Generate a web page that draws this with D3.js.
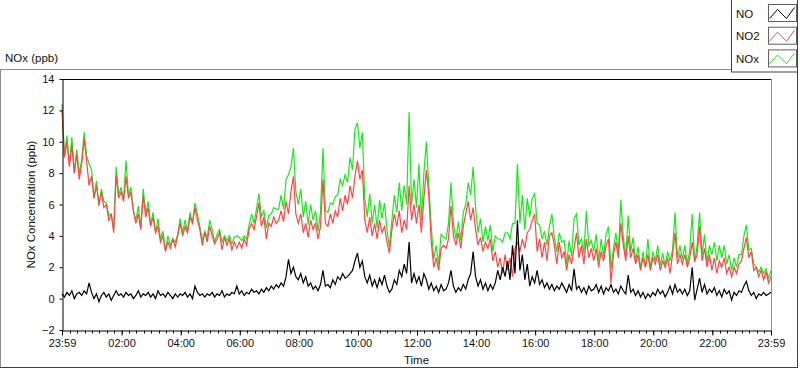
<!DOCTYPE html>
<meta charset="utf-8">
<title>NOx (ppb)</title>
<script src="https://d3js.org/d3.v7.min.js"></script>
<style>
  body { margin: 0; background: #fff; overflow: hidden; }
  text { font-family: "Liberation Sans", Arial, sans-serif; fill: #111; }
</style>
<div id="chart"></div>
<script>

// one reading every 5 minutes, 23:59 -> 23:59 next day (one row per hour)
var no2 = [
  12.0, 9.0, 10.0, 8.4, 9.8, 8.0, 9.2, 7.6, 8.6, 10.2, 8.8, 7.2,
  7.8, 6.4, 7.2, 6.0, 6.8, 5.8, 6.0, 5.0, 5.4, 4.2, 7.9, 6.4,
  6.8, 6.2, 7.8, 6.4, 6.8, 5.6, 4.8, 5.4, 4.4, 6.6, 5.2, 5.8,
  4.6, 5.2, 4.2, 4.6, 3.6, 4.0, 3.0, 3.6, 3.2, 3.8, 3.3, 4.0,
  4.8, 4.0, 4.6, 4.2, 5.2, 4.8, 5.8, 5.0, 4.4, 3.4, 4.2, 3.6,
  4.6, 4.0, 3.5, 3.8, 4.2, 3.1, 3.9, 3.4, 3.8, 3.1, 3.6, 3.2,
  3.6, 3.2, 3.8, 3.4, 4.4, 4.8, 4.4, 5.2, 6.1, 4.6, 5.2, 3.8,
  4.8, 4.6, 5.2, 4.8, 5.0, 5.6, 4.9, 6.2, 5.4, 6.8, 7.8, 5.4,
  4.8, 5.4, 4.2, 4.8, 3.9, 5.0, 4.4, 4.8, 3.8, 4.6, 7.6, 4.8,
  4.6, 5.4, 4.8, 5.6, 5.2, 6.4, 5.6, 6.6, 6.0, 7.2, 6.4, 7.8,
  8.8, 7.6, 8.2, 5.0, 4.2, 5.2, 4.0, 4.8, 3.8, 5.0, 4.2, 4.6,
  3.6, 2.9, 4.4, 5.4, 4.6, 5.6, 4.2, 5.0, 4.4, 7.2, 5.0, 6.0,
  4.8, 6.0, 4.2, 6.4, 8.2, 6.6, 3.6, 2.0, 2.6, 1.8, 3.2, 3.4,
  3.2, 3.8, 5.9, 4.0, 3.4, 4.2, 3.2, 4.6, 5.4, 6.2, 5.0, 5.8,
  4.4, 3.4, 3.9, 3.0, 3.6, 3.2, 3.8, 2.4, 3.0, 2.0, 2.6, 1.6,
  2.8, 1.8, 2.6, 1.4, 3.2, 3.6, 3.0, 3.8, 3.2, 4.2, 4.4, 5.0,
  5.4, 3.0, 3.8, 2.6, 3.6, 2.4, 4.0, 4.2, 3.4, 2.2, 3.6, 2.6,
  3.0, 1.8, 2.8, 2.2, 3.2, 4.2, 2.6, 3.4, 2.2, 3.8, 2.6, 3.2,
  2.4, 3.2, 2.0, 3.0, 2.4, 3.4, 3.8, 1.0, 2.8, 3.6, 2.6, 4.8,
  3.4, 2.4, 4.0, 2.6, 3.2, 2.2, 2.8, 1.8, 2.6, 2.0, 2.8, 1.8,
  2.6, 2.2, 2.8, 1.8, 2.4, 2.0, 2.6, 1.6, 2.8, 4.2, 2.2, 2.8,
  2.2, 2.8, 2.0, 2.6, 3.6, 2.4, 2.8, 4.6, 2.4, 3.2, 2.0, 2.8,
  1.8, 2.6, 1.6, 2.4, 2.0, 2.6, 1.6, 2.0, 1.4, 2.0, 1.6, 2.2,
  2.4, 3.2, 3.9, 2.6, 3.0, 1.8, 2.0, 1.4, 1.8, 1.2, 1.7, 1.0, 1.4
];

var no = [
  0.3, 0.1, 0.4, 0.2, 0.5, 0.0, 0.3, 0.4, 0.2, 0.5, 0.3, 1.0,
  0.4, 0.0, 0.3, -0.2, 0.2, 0.4, 0.1, 0.3, -0.1, 0.2, 0.5, 0.2,
  0.3, 0.1, 0.4, 0.2, 0.3, 0.0, 0.2, 0.5, 0.1, 0.3, 0.2, 0.4,
  0.1, 0.3, 0.0, 0.5, 0.2, 0.3, 0.1, 0.4, 0.2, 0.0, 0.3, 0.1,
  0.3, 0.2, 0.4, 0.1, 0.3, 0.0, 0.8, 0.4, 0.2, 0.3, 0.1, 0.3,
  0.2, 0.4, 0.1, 0.3, 0.2, 0.5, 0.1, 0.3, 0.2, 0.4, 0.3, 0.8,
  0.3, 0.5, 0.2, 0.4, 0.3, 0.6, 0.4, 0.5, 0.3, 0.6, 0.4, 0.7,
  0.5, 0.8, 0.6, 0.9, 0.7, 1.0, 0.8, 1.4, 2.5, 1.6, 2.0, 1.4,
  1.2, 1.6, 1.0, 1.4, 0.8, 1.0, 0.6, 0.8, 0.5, 0.9, 1.8, 0.8,
  0.9, 0.7, 1.2, 0.9, 1.4, 1.2, 1.6, 1.3, 1.4, 1.6, 1.8, 2.4,
  2.9, 2.0, 2.4, 1.4, 1.0, 1.5, 0.8, 1.2, 0.7, 1.3, 0.9, 1.5,
  0.8, 0.4, 0.6, 1.2, 0.9, 1.8, 1.4, 2.2, 1.6, 3.6, 1.0, 1.6,
  1.0, 1.4, 0.8, 1.6, 1.2, 0.6, 1.0, 0.5, 0.8, 0.4, 0.9, 0.5,
  0.6, 1.0, 1.8, 0.8, 0.4, 0.7, 0.5, 0.9, 0.6, 1.2, 1.6, 3.0,
  1.4, 0.8, 1.2, 0.6, 1.0, 0.5, 0.9, 0.6, 1.0, 1.8, 1.2, 2.0,
  1.4, 2.4, 1.2, 3.4, 1.6, 5.0, 1.8, 2.8, 1.2, 2.2, 0.8, 1.4,
  1.0, 1.8, 0.9, 1.2, 0.7, 1.0, 0.6, 0.9, 0.5, 0.8, 0.6, 1.0,
  0.7, 0.4, 0.9, 0.5, 1.9, 0.6, 0.8, 0.4, 0.7, 0.3, 0.8, 0.5,
  0.6, 0.9, 0.4, 0.8, 0.3, 0.7, 0.5, 0.9, 0.4, 0.6, 0.3, 0.8,
  0.5, 0.3, 1.5, 0.4, 0.6, 0.2, 0.5, 0.1, 0.4, 0.0, 0.3, 0.1,
  0.4, 0.2, 0.6, 0.3, 0.5, 0.1, 0.4, 0.8, 0.3, 0.9, 0.4, 0.6,
  0.3, 0.6, 0.2, 0.5, 2.0, -0.1, 0.6, 1.3, 0.4, 0.9, 0.3, 0.6,
  0.4, 0.7, 0.2, 0.5, 0.1, 0.6, 0.3, 0.5, -0.1, 0.4, 0.2, 0.5,
  0.4, 0.8, 1.1, 0.5, 0.2, 0.4, 0.0, 0.3, 0.2, 0.4, 0.2, 0.3, 0.4
];

var nox = [
  12.4, 9.1, 10.4, 8.6, 10.3, 8.0, 9.5, 8.0, 8.8, 10.6, 9.1, 8.6,
  8.2, 6.4, 7.5, 5.9, 7.0, 6.2, 6.1, 5.3, 5.4, 4.4, 8.4, 6.6,
  7.1, 6.3, 8.8, 6.6, 7.1, 5.6, 5.0, 5.9, 4.5, 7.0, 5.4, 6.2,
  4.7, 5.5, 4.2, 5.1, 3.8, 4.3, 3.1, 4.0, 3.4, 3.8, 3.6, 4.1,
  5.1, 4.2, 5.0, 4.3, 5.5, 4.8, 6.1, 5.4, 4.6, 3.7, 4.3, 3.9,
  5.0, 4.4, 3.6, 4.1, 4.4, 3.6, 4.0, 3.7, 4.0, 3.5, 3.9, 4.0,
  3.9, 3.7, 4.0, 3.8, 4.7, 5.4, 4.8, 5.7, 6.7, 5.2, 5.6, 4.5,
  5.3, 5.4, 5.8, 5.7, 5.7, 6.6, 5.7, 7.6, 7.9, 8.4, 9.6, 6.8,
  6.0, 7.0, 5.2, 6.2, 4.7, 6.0, 5.0, 5.6, 4.3, 5.5, 9.6, 5.6,
  5.5, 6.1, 6.0, 6.5, 6.6, 7.6, 7.2, 7.9, 7.4, 9.0, 8.2, 10.8,
  11.2, 9.6, 10.6, 6.4, 5.2, 6.7, 4.8, 6.0, 4.5, 6.3, 5.1, 6.1,
  4.4, 3.3, 5.0, 6.6, 5.5, 7.4, 5.6, 7.2, 6.0, 11.9, 6.0, 7.6,
  5.8, 8.6, 5.0, 8.0, 10.0, 7.2, 4.6, 2.5, 3.4, 2.2, 4.1, 3.9,
  3.8, 4.8, 7.4, 4.8, 3.8, 4.9, 3.7, 5.5, 6.0, 7.4, 6.6, 8.4,
  5.8, 4.2, 5.1, 3.6, 4.6, 3.7, 4.7, 3.0, 4.0, 3.8, 3.8, 3.6,
  4.2, 4.2, 3.8, 4.8, 4.8, 8.6, 4.8, 6.6, 4.4, 6.4, 5.2, 6.4,
  6.7, 4.8, 4.7, 3.8, 4.3, 3.4, 4.6, 5.4, 3.9, 3.0, 4.2, 3.6,
  3.7, 2.2, 3.7, 2.7, 5.1, 5.4, 3.4, 3.8, 2.9, 5.6, 3.4, 3.7,
  3.0, 4.1, 2.4, 3.8, 2.7, 4.1, 4.6, 1.9, 3.2, 4.2, 2.9, 6.3,
  3.9, 2.7, 5.3, 3.0, 3.9, 2.4, 3.3, 1.9, 3.0, 2.0, 3.8, 1.9,
  3.0, 2.4, 3.4, 2.1, 2.9, 2.1, 3.0, 2.4, 3.1, 5.5, 2.6, 3.4,
  2.5, 3.4, 2.2, 3.1, 5.4, 2.3, 3.4, 5.5, 2.8, 4.1, 2.3, 3.4,
  2.8, 3.6, 2.4, 3.4, 2.6, 3.4, 2.2, 2.8, 1.8, 2.6, 2.0, 2.8,
  2.8, 4.0, 4.7, 3.1, 3.2, 2.2, 2.0, 1.7, 2.0, 1.6, 1.9, 1.3, 1.8
];

var yTicks = [-2, 0, 2, 4, 6, 8, 10, 12, 14];
var seriesNames = ["NO", "NO2", "NOx"];
var seriesColors = ["#000000", "#ff4545", "#1ee61e"];

var startTime = new Date(2024, 0, 1, 23, 59);
var endTime = new Date(2024, 0, 2, 23, 59);
var stepMinutes = 5;

var W = 800, H = 369;
var plot = {left: 62, right: 771, top: 79, bottom: 330};

var svg = d3.select("#chart").append("svg")
  .attr("width", W)
  .attr("height", H);

var x = d3.scaleTime().domain([startTime, endTime]).range([plot.left, plot.right]);
var y = d3.scaleLinear().domain([-2, 14]).range([plot.bottom, plot.top]);

function timeAt(i) { return d3.timeMinute.offset(startTime, i * stepMinutes); }

// outer frame (LabVIEW style)
svg.append("line").attr("x1", 0).attr("x2", 731).attr("y1", 69.5).attr("y2", 69.5).attr("stroke", "#8c8c8c");
svg.append("line").attr("x1", 0.5).attr("x2", 0.5).attr("y1", 69.5).attr("y2", 368).attr("stroke", "#8c8c8c");
svg.append("line").attr("x1", 0).attr("x2", 798).attr("y1", 367.5).attr("y2", 367.5).attr("stroke", "#404040");
svg.append("line").attr("x1", 797.5).attr("x2", 797.5).attr("y1", 72).attr("y2", 368).attr("stroke", "#404040");

svg.append("text")
  .attr("x", 5).attr("y", 62)
  .style("font-size", "11.5px")
  .text("NOx (ppb)");

// plot border
svg.append("line").attr("x1", plot.left).attr("x2", plot.right + 1).attr("y1", plot.top + 0.5).attr("y2", plot.top + 0.5).attr("stroke", "#000");
svg.append("line").attr("x1", plot.right + 0.5).attr("x2", plot.right + 0.5).attr("y1", plot.top).attr("y2", plot.bottom).attr("stroke", "#8c8c8c");

// series: NOx behind, then NO2, then NO
var line = d3.line()
  .x(function(d, i) { return x(timeAt(i)); })
  .y(function(d) { return y(d); });

[[nox, 2], [no2, 1], [no, 0]].forEach(function(s) {
  svg.append("path")
    .datum(s[0])
    .attr("fill", "none")
    .attr("stroke", seriesColors[s[1]])
    .attr("stroke-width", 1.2)
    .attr("stroke-linejoin", "miter")
    .attr("d", line);
});

// Y axis
var yAxis = svg.append("g")
  .attr("transform", "translate(" + (plot.left + 0.5) + ",0)")
  .call(d3.axisLeft(y).tickValues(yTicks).tickSize(3).tickPadding(5).tickSizeOuter(0));
yAxis.select(".domain").attr("stroke", "#000");
yAxis.selectAll("text").style("font-size", "11px").attr("fill", "#111");

svg.append("text")
  .attr("transform", "translate(35," + ((plot.top + plot.bottom) / 2) + ") rotate(-90)")
  .style("text-anchor", "middle")
  .style("font-size", "11.5px")
  .text("NOx Concentration (ppb)");

// X axis
var xMajor = [startTime].concat(d3.timeHour.every(2).range(new Date(2024, 0, 2, 1), endTime), [endTime]);
var xMinor = d3.timeMinute.every(15).range(startTime, endTime);

var xAxis = svg.append("g")
  .attr("transform", "translate(0," + (plot.bottom + 0.5) + ")")
  .call(d3.axisBottom(x).tickValues(xMajor).tickFormat(d3.timeFormat("%H:%M")).tickSize(5).tickPadding(4).tickSizeOuter(0));
xAxis.select(".domain").attr("stroke", "#000");
xAxis.selectAll("text").style("font-size", "11px").attr("fill", "#111");

xAxis.selectAll(".minor")
  .data(xMinor)
  .enter().append("line")
  .attr("class", "minor")
  .attr("x1", function(d) { return Math.round(x(d)) + 0.5; })
  .attr("x2", function(d) { return Math.round(x(d)) + 0.5; })
  .attr("y1", 0).attr("y2", 3)
  .attr("stroke", "#000");

svg.append("text")
  .attr("x", (plot.left + plot.right) / 2)
  .attr("y", 364)
  .style("text-anchor", "middle")
  .style("font-size", "11.5px")
  .text("Time");

// legend
var legend = svg.append("g");
legend.append("rect")
  .attr("x", 731.5).attr("y", -1)
  .attr("width", 66).attr("height", 73)
  .attr("fill", "#fff")
  .attr("stroke", "#404040");

var zig = [[1, 14], [9, 5], [18, 14], [26, 3]];
seriesNames.forEach(function(name, i) {
  var top = 4 + i * 22.7;
  legend.append("text")
    .attr("x", 736).attr("y", top + 13.5)
    .style("font-size", "11.5px")
    .text(name);
  legend.append("rect")
    .attr("x", 768.5).attr("y", top + 0.5)
    .attr("width", 28).attr("height", 17)
    .attr("fill", "#fff")
    .attr("stroke", "#606060");
  legend.append("path")
    .attr("d", d3.line()(zig.map(function(p) { return [768.5 + p[0], top + 0.5 + p[1]]; })))
    .attr("fill", "none")
    .attr("stroke", seriesColors[i]);
});

</script>
